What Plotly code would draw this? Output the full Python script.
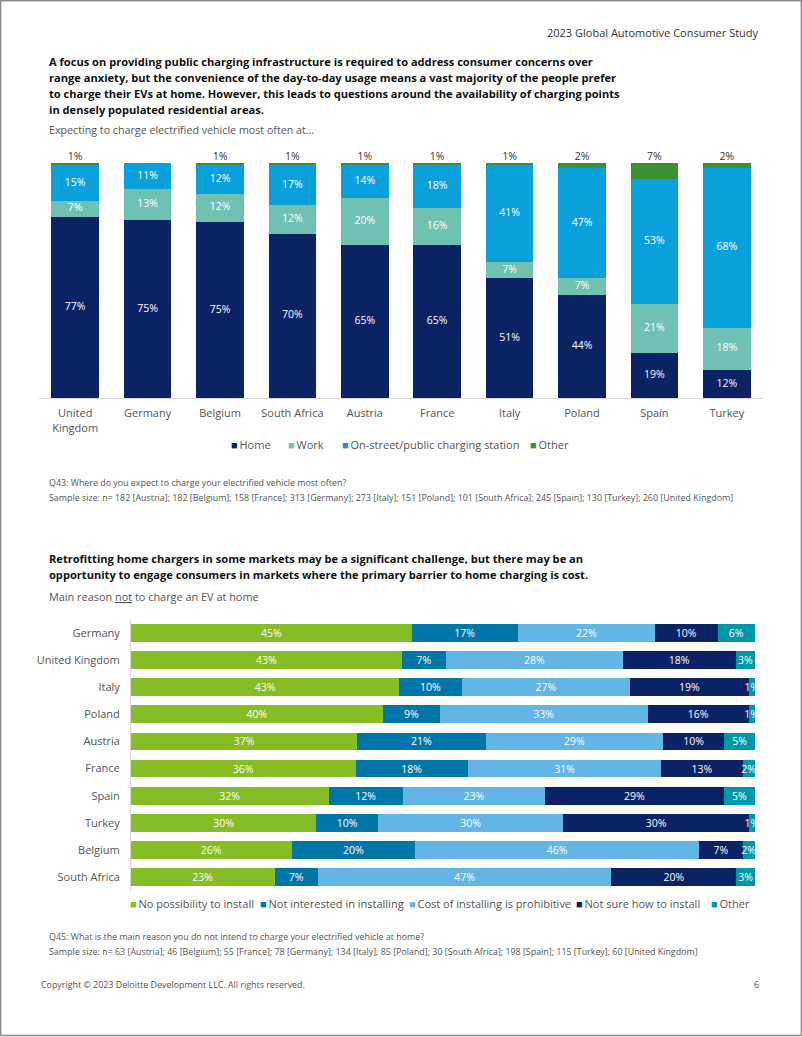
import plotly.graph_objects as go

W, H = 802, 1037
def px(x): return x / W
def py(y): return 1 - y / H

FONT = "Open Sans"
GREY = "#555555"

# ---------------- Top chart data ----------------
top_countries = ["United Kingdom", "Germany", "Belgium", "South Africa", "Austria",
                 "France", "Italy", "Poland", "Spain", "Turkey"]
top_tick_labels = ["United<br>Kingdom", "Germany", "Belgium", "South Africa", "Austria",
                   "France", "Italy", "Poland", "Spain", "Turkey"]
home = [77, 75, 75, 70, 65, 65, 51, 44, 19, 12]
work = [7, 13, 12, 12, 20, 16, 7, 7, 21, 18]
public = [15, 11, 12, 17, 14, 18, 41, 47, 53, 68]
other_top = [1, 0, 1, 1, 1, 1, 1, 2, 7, 2]
top_series = ["Home", "Work", "On-street/public charging station", "Other"]
top_colors = ["#0b2265", "#6fc1b2", "#0aa0dc", "#3d8f33"]

# ---------------- Bottom chart data ----------------
bot_countries = ["Germany", "United Kingdom", "Italy", "Poland", "Austria",
                 "France", "Spain", "Turkey", "Belgium", "South Africa"]
no_possibility = [45, 43, 43, 40, 37, 36, 32, 30, 26, 23]
not_interested = [17, 7, 10, 9, 21, 18, 12, 10, 20, 7]
cost_prohibitive = [22, 28, 27, 33, 29, 31, 23, 30, 46, 47]
not_sure = [10, 18, 19, 16, 10, 13, 29, 30, 7, 20]
other_bot = [6, 3, 1, 1, 5, 2, 5, 1, 2, 3]
bot_series = ["No possibility to install", "Not interested in installing",
              "Cost of installing is prohibitive", "Not sure how to install", "Other"]
bot_colors = ["#86bc25", "#0076a8", "#62b5e5", "#0b2265", "#0097a9"]


def labels(vals):
    return [f"{v}%" if v else "" for v in vals]


fig = go.Figure()

# ---- top chart: stacked columns (normalised to 100 %) ----
top_values = [home, work, public, other_top]
totals = [sum(col) for col in zip(*top_values)]
for name, vals, col in zip(top_series, top_values, top_colors):
    fig.add_trace(go.Bar(
        x=top_countries, y=vals, name=name, marker=dict(color=col, line=dict(width=0)),
        textposition="none", width=0.66, xaxis="x", yaxis="y",
        hoverinfo="skip", showlegend=False,
    ))

# value labels for the top chart, placed at the middle of each normalised segment
cum = [0.0] * len(top_countries)
for name, vals in zip(top_series, top_values):
    shares = [v / t * 100 for v, t in zip(vals, totals)]
    is_other = (name == "Other")
    ys = [c + s if is_other else c + s / 2 for c, s in zip(cum, shares)]
    fig.add_trace(go.Scatter(
        x=top_countries, y=ys, mode="text", text=labels(vals),
        textposition="top center" if is_other else "middle center",
        textfont=dict(family=FONT, size=10.5, color="#333333" if is_other else "white"),
        cliponaxis=False, xaxis="x", yaxis="y", hoverinfo="skip", showlegend=False,
    ))
    cum = [c + s for c, s in zip(cum, shares)]

# ---- bottom chart: stacked horizontal bars (normalised to 100 %) ----
bot_values = [no_possibility, not_interested, cost_prohibitive, not_sure, other_bot]
for name, vals, col in zip(bot_series, bot_values, bot_colors):
    fig.add_trace(go.Bar(
        y=bot_countries, x=vals, name=name, orientation="h",
        marker=dict(color=col, line=dict(width=0)),
        text=labels(vals), texttemplate="%{text}",
        textposition="inside", insidetextanchor="middle", textangle=0,
        constraintext="none",
        insidetextfont=dict(family=FONT, size=10.5, color="white"),
        cliponaxis=False, width=0.66, xaxis="x2", yaxis="y2",
        hoverinfo="skip", showlegend=False,
    ))

annotations = []
def txt(x, y, s, size, color, anchor="left", family=FONT):
    annotations.append(dict(
        x=px(x), y=py(y), xref="paper", yref="paper", text=s, showarrow=False,
        xanchor=anchor, yanchor="middle", align=anchor,
        font=dict(family=family, size=size, color=color)))

def legend_item(x, y, name, col):
    txt(x, y, f"<span style='color:{col};font-size:11px'>■</span>\u2009{name}", 11, GREY)

# header
txt(761, 33, "2023 Global Automotive Consumer Study", 11, "#333333", "right")
# top title
title1 = ["A focus on providing public charging infrastructure is required to address consumer concerns over",
          "range anxiety, but the convenience of the day-to-day usage means a vast majority of the people prefer",
          "to charge their EVs at home. However, this leads to questions around the availability of charging points",
          "in densely populated residential areas."]
for k, line in enumerate(title1):
    txt(47, 61 + k * 16.1, f"<b>{line}</b>", 11.1, "#111111")
txt(47, 130, "Expecting to charge electrified vehicle most often at…", 10.7, GREY)

# top legend
for name, col, x in zip(top_series, top_colors, [229, 286, 340, 528]):
    legend_item(x, 445, name, col)

txt(47, 482, "Q43: Where do you expect to charge your electrified vehicle most often?", 8.9, GREY)
txt(47, 497, "Sample size: n= 182 [Austria]; 182 [Belgium]; 158 [France]; 313 [Germany]; 273 [Italy]; "
             "151 [Poland]; 101 [South Africa]; 245 [Spain]; 130 [Turkey]; 260 [United Kingdom]", 8.9, GREY)

# bottom title
title2 = ["Retrofitting home chargers in some markets may be a significant challenge, but there may be an",
          "opportunity to engage consumers in markets where the primary barrier to home charging is cost."]
for k, line in enumerate(title2):
    txt(47, 558 + k * 16.1, f"<b>{line}</b>", 11.1, "#111111")
txt(47, 596, "Main reason <u>not</u> to charge an EV at home", 10.9, GREY)

# bottom legend
for name, col, x in zip(bot_series, bot_colors, [128, 258, 407, 574, 709]):
    legend_item(x, 903, name, col)

txt(47, 936, "Q45: What is the main reason you do not intend to charge your electrified vehicle at home?", 8.9, GREY)
txt(47, 951, "Sample size: n= 63 [Austria]; 46 [Belgium]; 55 [France]; 78 [Germany]; 134 [Italy]; "
             "85 [Poland]; 30 [South Africa]; 198 [Spain]; 115 [Turkey]; 60 [United Kingdom]", 8.9, GREY)

txt(39, 984, "Copyright © 2023 Deloitte Development LLC. All rights reserved.", 8.9, GREY)
txt(761, 984, "6", 8.9, GREY, "right")

fig.update_layout(
    width=W, height=H, margin=dict(l=0, r=0, t=0, b=0),
    paper_bgcolor="white", plot_bgcolor="white",
    barmode="stack", barnorm="percent",
    showlegend=False,
    font=dict(family=FONT, color=GREY),
    annotations=annotations,
    shapes=[dict(type="rect", xref="paper", yref="paper",
                 x0=px(0.7), x1=px(801.3), y0=py(1035.5), y1=py(0.7),
                 line=dict(color="#8c8c8c", width=1.4), fillcolor="rgba(0,0,0,0)")],
    xaxis=dict(domain=[px(39), px(763)], anchor="y", type="category",
               tickmode="array", tickvals=top_countries, ticktext=top_tick_labels,
               showline=True, linecolor="#d9d9d9", linewidth=1, showgrid=False,
               ticks="", tickfont=dict(family=FONT, size=11, color=GREY),
               ticklabelstandoff=5, fixedrange=True),
    yaxis=dict(domain=[py(398), py(163)], anchor="x", range=[0, 100],
               visible=False, fixedrange=True),
    xaxis2=dict(domain=[px(131), px(755)], anchor="y2", range=[0, 100],
                visible=False, fixedrange=True),
    yaxis2=dict(domain=[py(890.5), py(619.5)], anchor="x2", type="category",
                autorange="reversed", showline=True, linecolor="#d9d9d9",
                linewidth=1, showgrid=False, ticks="",
                tickfont=dict(family=FONT, size=11, color=GREY),
                ticklabelstandoff=8, fixedrange=True),
)

fig.write_html("out.html", config={"displayModeBar": False},
               post_script="document.body.style.margin='0';document.body.style.overflow='hidden';")
